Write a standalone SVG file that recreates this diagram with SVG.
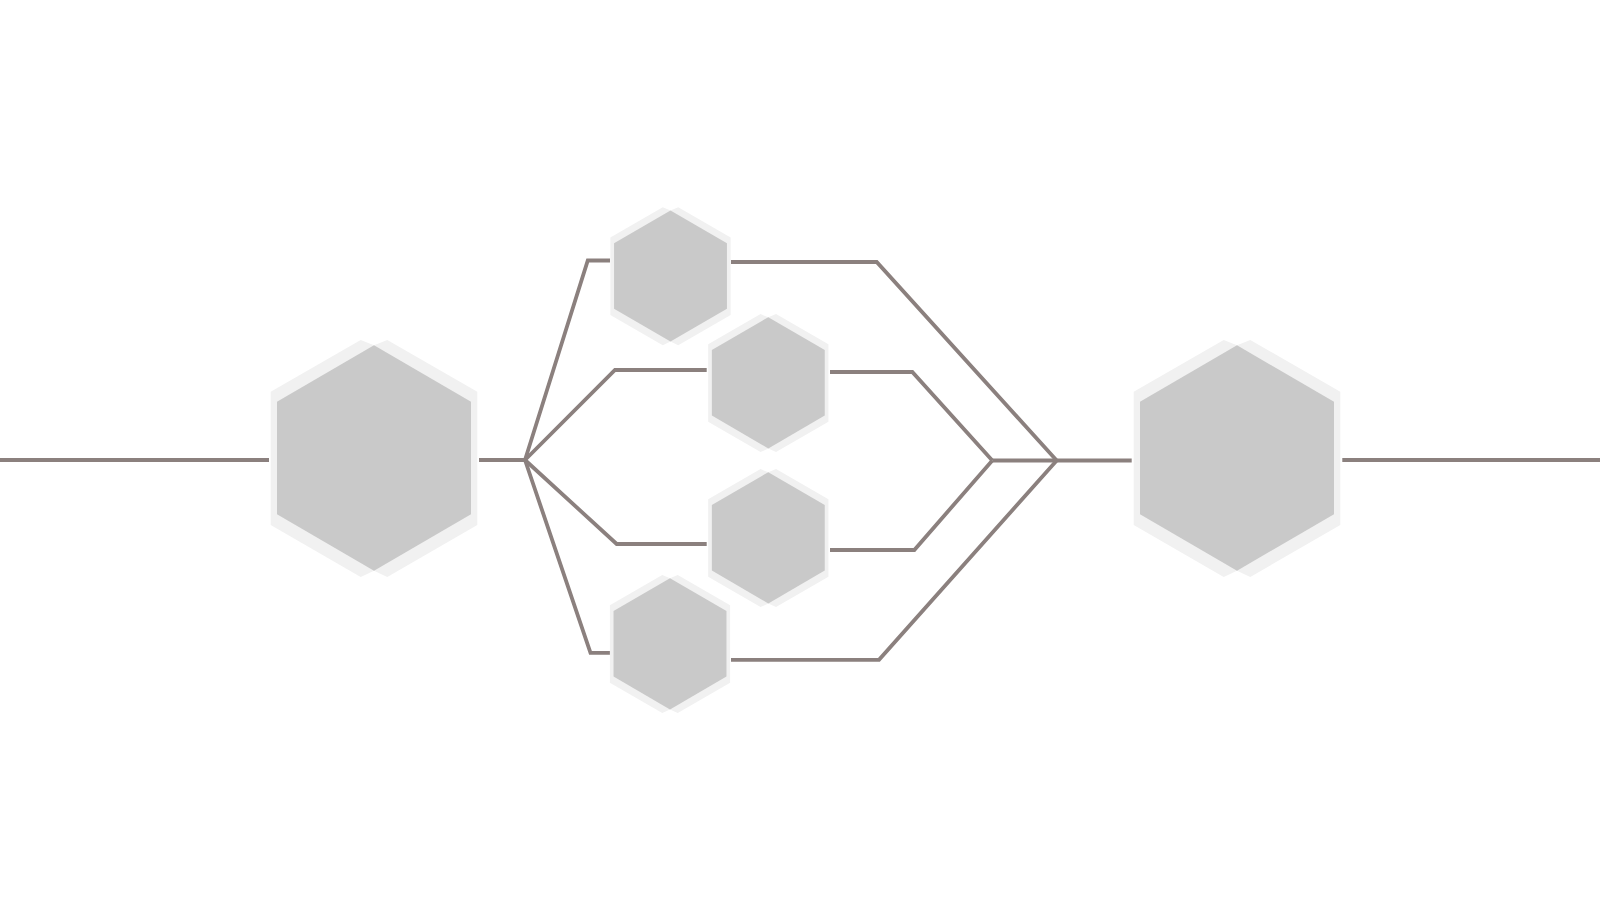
<svg xmlns="http://www.w3.org/2000/svg" xmlns:xlink="http://www.w3.org/1999/xlink" width="1600" height="900" viewBox="0 0 1600 900">
  <style>
    .halo { fill: #f1f1f1; }
    .core { fill: #c9c9c9; }
    .conn { fill: none; stroke: #8b807e; stroke-width: 3.8; stroke-linejoin: miter; stroke-linecap: butt; }
  </style>
  <defs>
    <g id="hex">
      <polygon class="halo" points="-103.3,-66.3 -13.3,-118 0,-112.7 13.3,-118 103.3,-66.3 103.3,67 13.3,119 0,112.7 -13.3,119 -103.3,67"/>
      <polygon class="core" points="0,-112.7 97,-56.3 97,56.3 0,112.7 -97,56.3 -97,-56.3"/>
    </g>
  </defs>
  <rect width="1600" height="900" fill="#ffffff"/>
  <g id="connectors">
    <polyline class="conn" points="0,460 269,460"/>
    <polyline class="conn" points="479,460 525,460"/>
    <polyline class="conn" points="525,460 587.8,260.5 610,260.5"/>
    <polyline class="conn" points="525,460 615,370 706.7,370"/>
    <polyline class="conn" points="525,460 616.7,544 706.7,544"/>
    <polyline class="conn" points="525,460 590.5,652.8 610,652.8"/>
    <polyline class="conn" points="731,262 876.7,262 1056.7,460.5"/>
    <polyline class="conn" points="830,372 912.3,372 992.3,460.5"/>
    <polyline class="conn" points="830,550 914.3,550 992.3,460.5"/>
    <polyline class="conn" points="731,659.8 879,659.8 1056.7,460.5"/>
    <polyline class="conn" points="992.3,460.5 1131.7,460.5"/>
    <polyline class="conn" points="1342.3,460 1600,460"/>
  </g>
  <g id="node-left"><use xlink:href="#hex" transform="translate(374,458)"/></g>
  <g id="node-top"><use xlink:href="#hex" transform="translate(670.5,276) scale(0.582)"/></g>
  <g id="node-upper-mid"><use xlink:href="#hex" transform="translate(768.3,382.8) scale(0.582)"/></g>
  <g id="node-lower-mid"><use xlink:href="#hex" transform="translate(768.3,537.8) scale(0.582)"/></g>
  <g id="node-bottom"><use xlink:href="#hex" transform="translate(670,643.8) scale(0.582)"/></g>
  <g id="node-right"><use xlink:href="#hex" transform="translate(1237,458)"/></g>
</svg>
